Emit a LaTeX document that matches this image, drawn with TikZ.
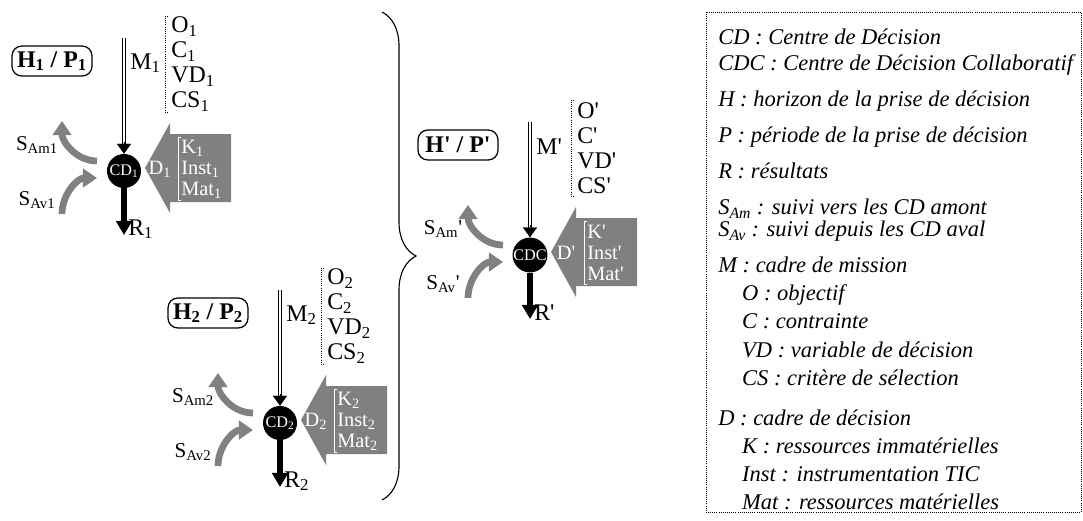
\documentclass[tikz,border=0pt]{standalone}
\usepackage{fontspec}
\setmainfont{Liberation Serif}
\usepackage{tikz}
\usetikzlibrary{arrows.meta}
\usetikzlibrary{decorations.pathreplacing}

\definecolor{arrowgray}{RGB}{128,128,128}

\tikzset{
  centre/.style={circle, fill=black, text=white, minimum size=0.85cm, inner sep=0pt, font=\fontsize{11.5}{11.5}\selectfont},
  horizon/.style={draw, rounded corners=7pt, line width=0.9pt, minimum width=2cm, minimum height=0.75cm, inner sep=2pt, font=\fontsize{17}{17}\selectfont\bfseries},
  lbl/.style={inner sep=0pt, font=\fontsize{17}{17.8}\selectfont},
  slbl/.style={inner sep=0pt, font=\fontsize{15}{15}\selectfont},
  wlbl/.style={inner sep=0pt, text=white, font=\fontsize{14.5}{15}\selectfont},
  mission/.style={double, double distance=1.6pt, line width=0.8pt, shorten >=5pt},
  mtip/.style={line width=0.1pt, -{Triangle[length=7pt,width=10pt]}},
  result/.style={line width=3.6pt, -{Triangle[length=10pt,width=11pt]}},
  track/.style={arrowgray, line width=4.8pt, -{Triangle[length=10pt,width=13pt]}},
  bracket/.style={densely dotted, line width=0.6pt},
  legend/.style={inner sep=0pt, align=left, font=\fontsize{16}{20}\selectfont\itshape},
}

% one decision centre: position, name, centre text, index, S_Am label, S_Av label
\newcommand{\decunit}[6]{%
  \begin{scope}[shift={#1}]
    \node[centre] (#2) at (0,0) {#3};
    \node[horizon] (#2-hp) at (-72,110) {H#4 / P#4};
    % mission frame
    \coordinate (#2-m) at (0,133);
    \draw[mission] (#2-m) -- (#2.north);
    \draw[mtip] (#2.north) ++(0,12) -- (#2.north);
    \node[lbl, anchor=west] (#2-mlabel) at (6,108) {M#4};
    \draw[bracket] (44,155) -- (41,155) -- (41,59) -- (44,59);
    \node[lbl, anchor=west, align=left] (#2-mlist) at (47,107) {O#4\\C#4\\VD#4\\CS#4};
    % decision frame
    \fill[arrowgray] (21,3) -- (46,48) -- (46,37) -- (107,37) -- (107,-31) -- (46,-31) -- (46,-42) -- cycle;
    \node[wlbl] (#2-d) at (36,2) {D#4};
    \draw[white, line width=0.6pt] (57,34) -- (54,34) -- (54,-29) -- (57,-29);
    \node[wlbl, anchor=west, align=left] (#2-dlist) at (57,2) {K#4\\Inst#4\\Mat#4};
    % results
    \coordinate (#2-r) at (0,-64);
    \draw[result] (#2.south) -- (#2-r);
    \node[lbl, anchor=west] (#2-rlabel) at (4,-58) {R#4};
    % follow-up
    \coordinate (#2-am0) at (-27,10);
    \coordinate (#2-am1) at (-62,50);
    \draw[track] (#2-am0) to[out=180, in=-90] (#2-am1);
    \coordinate (#2-av0) at (-62,-43);
    \coordinate (#2-av1) at (-27,-7);
    \draw[track] (#2-av0) to[out=90, in=180] (#2-av1);
    \node[slbl] (#2-amlabel) at (-87,26) {#5};
    \node[slbl] (#2-avlabel) at (-87,-29) {#6};
  \end{scope}}

\begin{document}
\begin{tikzpicture}[x=0.025cm, y=0.025cm]
  \useasboundingbox (0,0) rectangle (1083,-520);

  \decunit{(124,-171)}{cd1}{CD\textsubscript{1}}{\textsubscript{1}}{S\textsubscript{Am1}}{S\textsubscript{Av1}}
  \decunit{(280,-423)}{cd2}{CD\textsubscript{2}}{\textsubscript{2}}{S\textsubscript{Am2}}{S\textsubscript{Av2}}
  \decunit{(530,-255)}{cdc}{CDC}{\textquotesingle}{S\textsubscript{Am}\textquotesingle}{S\textsubscript{Av}\textquotesingle}

  \draw[line width=0.8pt, decorate, decoration={brace, amplitude=0.85cm}] (382,-12) -- (382,-500);

  % legend
  \draw[densely dotted, line width=0.5pt] (706,-12) rectangle (1081,-512);
  \node[legend, anchor=north west] (legendtext) at (718,-29) {%
    CD : Centre de Décision\\[-1.5pt]
    CDC : Centre de Décision Collaboratif\\[5.5pt]
    H : horizon de la prise de décision\\[5.5pt]
    P : période de la prise de décision\\[5.5pt]
    R : résultats\\[5.5pt]
    S\textsubscript{Am} : suivi vers les CD amont\\[-4pt]
    S\textsubscript{Av} : suivi depuis les CD aval\\[5.5pt]
    M : cadre de mission\\
    \hspace{17pt}O : objectif\\
    \hspace{17pt}C : contrainte\\
    \hspace{17pt}VD : variable de décision\\
    \hspace{17pt}CS : critère de sélection\\[8.5pt]
    D : cadre de décision\\
    \hspace{17pt}K : ressources immatérielles\\
    \hspace{17pt}Inst : instrumentation TIC\\
    \hspace{17pt}Mat : ressources matérielles};
\end{tikzpicture}
\end{document}
